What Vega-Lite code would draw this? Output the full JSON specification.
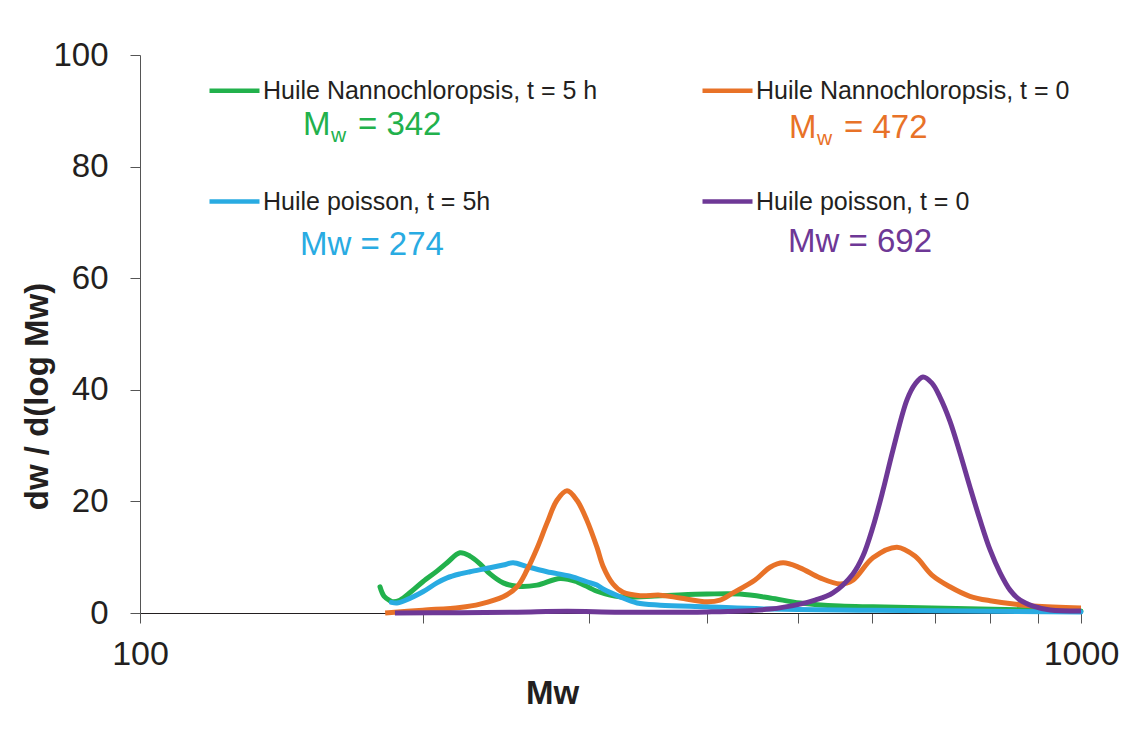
{
  "$schema": "https://vega.github.io/schema/vega-lite/v6.json",
  "width": 941,
  "height": 558,
  "autosize": "none",
  "padding": {"left": 140, "top": 55, "right": 49, "bottom": 118},
  "background": "white",
  "config": {"view": {"stroke": null}, "font": "Liberation Sans"},
  "datasets": {
    "curves": [
      {"series": "Huile Nannochloropsis, t = 5 h", "Mw": 179.9, "dw": 4.7},
      {"series": "Huile Nannochloropsis, t = 5 h", "Mw": 181.7, "dw": 3.0},
      {"series": "Huile Nannochloropsis, t = 5 h", "Mw": 184.4, "dw": 2.2},
      {"series": "Huile Nannochloropsis, t = 5 h", "Mw": 185.7, "dw": 2.0},
      {"series": "Huile Nannochloropsis, t = 5 h", "Mw": 188.9, "dw": 2.3},
      {"series": "Huile Nannochloropsis, t = 5 h", "Mw": 194.1, "dw": 3.8},
      {"series": "Huile Nannochloropsis, t = 5 h", "Mw": 199.8, "dw": 5.6},
      {"series": "Huile Nannochloropsis, t = 5 h", "Mw": 206.8, "dw": 7.5},
      {"series": "Huile Nannochloropsis, t = 5 h", "Mw": 212.0, "dw": 9.0},
      {"series": "Huile Nannochloropsis, t = 5 h", "Mw": 218.8, "dw": 10.8},
      {"series": "Huile Nannochloropsis, t = 5 h", "Mw": 224.2, "dw": 10.2},
      {"series": "Huile Nannochloropsis, t = 5 h", "Mw": 229.8, "dw": 8.8},
      {"series": "Huile Nannochloropsis, t = 5 h", "Mw": 235.5, "dw": 7.0},
      {"series": "Huile Nannochloropsis, t = 5 h", "Mw": 243.2, "dw": 5.4},
      {"series": "Huile Nannochloropsis, t = 5 h", "Mw": 251.6, "dw": 4.8},
      {"series": "Huile Nannochloropsis, t = 5 h", "Mw": 264.2, "dw": 5.0},
      {"series": "Huile Nannochloropsis, t = 5 h", "Mw": 279.5, "dw": 6.2},
      {"series": "Huile Nannochloropsis, t = 5 h", "Mw": 291.3, "dw": 5.6},
      {"series": "Huile Nannochloropsis, t = 5 h", "Mw": 305.9, "dw": 3.9},
      {"series": "Huile Nannochloropsis, t = 5 h", "Mw": 323.7, "dw": 2.9},
      {"series": "Huile Nannochloropsis, t = 5 h", "Mw": 357.0, "dw": 3.1},
      {"series": "Huile Nannochloropsis, t = 5 h", "Mw": 400.5, "dw": 3.4},
      {"series": "Huile Nannochloropsis, t = 5 h", "Mw": 434.2, "dw": 3.4},
      {"series": "Huile Nannochloropsis, t = 5 h", "Mw": 467.3, "dw": 2.7},
      {"series": "Huile Nannochloropsis, t = 5 h", "Mw": 502.8, "dw": 1.8},
      {"series": "Huile Nannochloropsis, t = 5 h", "Mw": 554.4, "dw": 1.25},
      {"series": "Huile Nannochloropsis, t = 5 h", "Mw": 601.0, "dw": 1.1},
      {"series": "Huile Nannochloropsis, t = 5 h", "Mw": 694.4, "dw": 0.9},
      {"series": "Huile Nannochloropsis, t = 5 h", "Mw": 889.3, "dw": 0.55},
      {"series": "Huile Nannochloropsis, t = 5 h", "Mw": 1000, "dw": 0.35},

      {"series": "Huile poisson, t = 5h", "Mw": 185.0, "dw": 1.9},
      {"series": "Huile poisson, t = 5h", "Mw": 187.5, "dw": 1.8},
      {"series": "Huile poisson, t = 5h", "Mw": 191.0, "dw": 2.2},
      {"series": "Huile poisson, t = 5h", "Mw": 199.8, "dw": 3.8},
      {"series": "Huile poisson, t = 5h", "Mw": 206.8, "dw": 5.4},
      {"series": "Huile poisson, t = 5h", "Mw": 212.0, "dw": 6.3},
      {"series": "Huile poisson, t = 5h", "Mw": 218.8, "dw": 7.0},
      {"series": "Huile poisson, t = 5h", "Mw": 224.2, "dw": 7.4},
      {"series": "Huile poisson, t = 5h", "Mw": 235.5, "dw": 8.1},
      {"series": "Huile poisson, t = 5h", "Mw": 243.2, "dw": 8.6},
      {"series": "Huile poisson, t = 5h", "Mw": 249.2, "dw": 9.0},
      {"series": "Huile poisson, t = 5h", "Mw": 257.8, "dw": 8.3},
      {"series": "Huile poisson, t = 5h", "Mw": 270.7, "dw": 7.4},
      {"series": "Huile poisson, t = 5h", "Mw": 286.4, "dw": 6.6},
      {"series": "Huile poisson, t = 5h", "Mw": 298.5, "dw": 5.6},
      {"series": "Huile poisson, t = 5h", "Mw": 305.9, "dw": 5.0},
      {"series": "Huile poisson, t = 5h", "Mw": 310.5, "dw": 4.3},
      {"series": "Huile poisson, t = 5h", "Mw": 323.7, "dw": 2.9},
      {"series": "Huile poisson, t = 5h", "Mw": 337.5, "dw": 1.8},
      {"series": "Huile poisson, t = 5h", "Mw": 357.0, "dw": 1.4},
      {"series": "Huile poisson, t = 5h", "Mw": 400.5, "dw": 1.1},
      {"series": "Huile poisson, t = 5h", "Mw": 467.3, "dw": 0.7},
      {"series": "Huile poisson, t = 5h", "Mw": 601.0, "dw": 0.5},
      {"series": "Huile poisson, t = 5h", "Mw": 1000, "dw": 0.2},

      {"series": "Huile Nannochloropsis, t = 0", "Mw": 182.2, "dw": 0},
      {"series": "Huile Nannochloropsis, t = 0", "Mw": 199.8, "dw": 0.5},
      {"series": "Huile Nannochloropsis, t = 0", "Mw": 218.8, "dw": 1.0},
      {"series": "Huile Nannochloropsis, t = 0", "Mw": 229.8, "dw": 1.6},
      {"series": "Huile Nannochloropsis, t = 0", "Mw": 243.2, "dw": 2.9},
      {"series": "Huile Nannochloropsis, t = 0", "Mw": 251.6, "dw": 4.7},
      {"series": "Huile Nannochloropsis, t = 0", "Mw": 257.8, "dw": 7.7},
      {"series": "Huile Nannochloropsis, t = 0", "Mw": 264.2, "dw": 11.6},
      {"series": "Huile Nannochloropsis, t = 0", "Mw": 270.7, "dw": 16.1},
      {"series": "Huile Nannochloropsis, t = 0", "Mw": 277.4, "dw": 20.2},
      {"series": "Huile Nannochloropsis, t = 0", "Mw": 284.3, "dw": 21.9},
      {"series": "Huile Nannochloropsis, t = 0", "Mw": 291.3, "dw": 20.2},
      {"series": "Huile Nannochloropsis, t = 0", "Mw": 298.5, "dw": 16.6},
      {"series": "Huile Nannochloropsis, t = 0", "Mw": 305.9, "dw": 11.8},
      {"series": "Huile Nannochloropsis, t = 0", "Mw": 310.5, "dw": 8.4},
      {"series": "Huile Nannochloropsis, t = 0", "Mw": 318.2, "dw": 5.2},
      {"series": "Huile Nannochloropsis, t = 0", "Mw": 326.1, "dw": 3.7},
      {"series": "Huile Nannochloropsis, t = 0", "Mw": 339.9, "dw": 3.1},
      {"series": "Huile Nannochloropsis, t = 0", "Mw": 357.0, "dw": 3.2},
      {"series": "Huile Nannochloropsis, t = 0", "Mw": 374.9, "dw": 2.7},
      {"series": "Huile Nannochloropsis, t = 0", "Mw": 400.5, "dw": 2.0},
      {"series": "Huile Nannochloropsis, t = 0", "Mw": 413.4, "dw": 2.3},
      {"series": "Huile Nannochloropsis, t = 0", "Mw": 426.8, "dw": 3.6},
      {"series": "Huile Nannochloropsis, t = 0", "Mw": 450.4, "dw": 5.9},
      {"series": "Huile Nannochloropsis, t = 0", "Mw": 467.3, "dw": 8.2},
      {"series": "Huile Nannochloropsis, t = 0", "Mw": 482.4, "dw": 9.0},
      {"series": "Huile Nannochloropsis, t = 0", "Mw": 502.8, "dw": 8.1},
      {"series": "Huile Nannochloropsis, t = 0", "Mw": 528.0, "dw": 6.3},
      {"series": "Huile Nannochloropsis, t = 0", "Mw": 554.4, "dw": 5.2},
      {"series": "Huile Nannochloropsis, t = 0", "Mw": 572.3, "dw": 5.9},
      {"series": "Huile Nannochloropsis, t = 0", "Mw": 601.0, "dw": 9.9},
      {"series": "Huile Nannochloropsis, t = 0", "Mw": 637.4, "dw": 11.8},
      {"series": "Huile Nannochloropsis, t = 0", "Mw": 666.1, "dw": 10.2},
      {"series": "Huile Nannochloropsis, t = 0", "Mw": 694.4, "dw": 6.8},
      {"series": "Huile Nannochloropsis, t = 0", "Mw": 725.6, "dw": 4.7},
      {"series": "Huile Nannochloropsis, t = 0", "Mw": 762.0, "dw": 3.0},
      {"series": "Huile Nannochloropsis, t = 0", "Mw": 800.6, "dw": 2.2},
      {"series": "Huile Nannochloropsis, t = 0", "Mw": 889.3, "dw": 1.25},
      {"series": "Huile Nannochloropsis, t = 0", "Mw": 1000, "dw": 0.9},

      {"series": "Huile poisson, t = 0", "Mw": 186.6, "dw": 0},
      {"series": "Huile poisson, t = 0", "Mw": 218.8, "dw": 0.05},
      {"series": "Huile poisson, t = 0", "Mw": 251.6, "dw": 0.15},
      {"series": "Huile poisson, t = 0", "Mw": 284.3, "dw": 0.3},
      {"series": "Huile poisson, t = 0", "Mw": 323.7, "dw": 0.15},
      {"series": "Huile poisson, t = 0", "Mw": 400.5, "dw": 0.2},
      {"series": "Huile poisson, t = 0", "Mw": 467.3, "dw": 0.7},
      {"series": "Huile poisson, t = 0", "Mw": 502.8, "dw": 1.6},
      {"series": "Huile poisson, t = 0", "Mw": 521.6, "dw": 2.3},
      {"series": "Huile poisson, t = 0", "Mw": 544.9, "dw": 3.6},
      {"series": "Huile poisson, t = 0", "Mw": 572.3, "dw": 7.0},
      {"series": "Huile poisson, t = 0", "Mw": 586.5, "dw": 10.2},
      {"series": "Huile poisson, t = 0", "Mw": 601.0, "dw": 15.4},
      {"series": "Huile poisson, t = 0", "Mw": 616.0, "dw": 22.0},
      {"series": "Huile poisson, t = 0", "Mw": 631.2, "dw": 29.2},
      {"series": "Huile poisson, t = 0", "Mw": 653.2, "dw": 38.2},
      {"series": "Huile poisson, t = 0", "Mw": 666.1, "dw": 41.0},
      {"series": "Huile poisson, t = 0", "Mw": 679.3, "dw": 42.3},
      {"series": "Huile poisson, t = 0", "Mw": 694.4, "dw": 41.2},
      {"series": "Huile poisson, t = 0", "Mw": 708.1, "dw": 38.7},
      {"series": "Huile poisson, t = 0", "Mw": 725.6, "dw": 34.4},
      {"series": "Huile poisson, t = 0", "Mw": 743.6, "dw": 28.7},
      {"series": "Huile poisson, t = 0", "Mw": 762.0, "dw": 22.6},
      {"series": "Huile poisson, t = 0", "Mw": 781.0, "dw": 16.7},
      {"series": "Huile poisson, t = 0", "Mw": 800.6, "dw": 11.3},
      {"series": "Huile poisson, t = 0", "Mw": 820.4, "dw": 7.2},
      {"series": "Huile poisson, t = 0", "Mw": 840.7, "dw": 4.1},
      {"series": "Huile poisson, t = 0", "Mw": 861.6, "dw": 2.3},
      {"series": "Huile poisson, t = 0", "Mw": 889.3, "dw": 1.25},
      {"series": "Huile poisson, t = 0", "Mw": 927.3, "dw": 0.55},
      {"series": "Huile poisson, t = 0", "Mw": 1000, "dw": 0.35}
    ],
    "notes": [
      {"series": "Huile Nannochloropsis, t = 5 h", "Mw": 149.0, "dw": 85.7, "main": "M", "sub": "w", "rest": "= 342"},
      {"series": "Huile Nannochloropsis, t = 0", "Mw": 489.5, "dw": 85.1, "main": "M", "sub": "w", "rest": "= 472"},
      {"series": "Huile poisson, t = 5h", "Mw": 147.9, "dw": 64.2, "main": "Mw = 274", "sub": "", "rest": ""},
      {"series": "Huile poisson, t = 0", "Mw": 488.3, "dw": 64.7, "main": "Mw = 692", "sub": "", "rest": ""}
    ]
  },
  "encoding": {
    "x": {
      "field": "Mw",
      "type": "quantitative",
      "scale": {"type": "log", "domain": [100, 1000]},
      "axis": {
        "title": "Mw",
        "titleFont": "Liberation Sans",
        "titleFontSize": 33,
        "titleFontWeight": "bold",
        "titleColor": "#231f20",
        "titleX": 412,
        "titleY": 80,
        "titleBaseline": "middle",
        "titleAlign": "center",
        "values": [100, 200, 300, 400, 500, 600, 700, 800, 900, 1000],
        "format": "d",
        "labelExpr": "datum.value == 100 || datum.value == 1000 ? datum.label : ''",
        "labelFont": "Liberation Sans",
        "labelFontSize": 34,
        "labelColor": "#231f20",
        "labelPadding": 14,
        "labelFlush": false,
        "labelOverlap": false,
        "tickSize": 10,
        "tickColor": "#555555",
        "tickWidth": 1,
        "domainColor": "#231f20",
        "domainWidth": 1,
        "grid": false,
        "encode": {
          "ticks": {
            "update": {
              "y": {"signal": "datum.value == 100 ? 0 : -7"},
              "y2": {"signal": "(datum.value == 100 || datum.value == 1000) ? 10 : 0"}
            }
          }
        }
      }
    },
    "y": {
      "field": "dw",
      "type": "quantitative",
      "scale": {"domain": [0, 100]},
      "axis": {
        "title": "dw / d(log Mw)",
        "titleFont": "Liberation Sans",
        "titleFontSize": 33,
        "titleFontWeight": "bold",
        "titleColor": "#231f20",
        "titleX": -103,
        "titleY": 341,
        "titleBaseline": "middle",
        "titleAlign": "center",
        "values": [0, 20, 40, 60, 80, 100],
        "labelFont": "Liberation Sans",
        "labelFontSize": 33,
        "labelColor": "#231f20",
        "labelPadding": 22,
        "tickSize": 10,
        "tickColor": "#555555",
        "domainColor": "#555555",
        "grid": false
      }
    }
  },
  "layer": [
    {
      "data": {"name": "curves"},
      "transform": [{"filter": "datum.series == 'Huile Nannochloropsis, t = 5 h'"}],
      "mark": {"type": "line", "interpolate": "catmull-rom", "strokeWidth": 5, "strokeCap": "round"},
      "encoding": {
        "color": {
          "field": "series",
          "type": "nominal",
          "scale": {
            "domain": ["Huile Nannochloropsis, t = 5 h", "Huile poisson, t = 5h", "Huile Nannochloropsis, t = 0", "Huile poisson, t = 0"],
            "range": ["#22B14C", "#29ABE2", "#E87228", "#6E3896"]
          },
          "legend": {
            "orient": "none",
            "legendX": 67,
            "legendY": 8,
            "columns": 2,
            "title": null,
            "padding": 0,
            "symbolType": "stroke",
            "symbolSize": 2500,
            "symbolStrokeWidth": 4.5,
            "labelFont": "Liberation Sans",
            "labelFontSize": 25,
            "labelColor": "#231f20",
            "labelOffset": 1,
            "labelLimit": 0,
            "columnPadding": 95,
            "rowPadding": 70,
            "gridAlign": "all"
          }
        }
      }
    },
    {
      "data": {"name": "curves"},
      "transform": [{"filter": "datum.series == 'Huile poisson, t = 5h'"}],
      "mark": {"type": "line", "interpolate": "catmull-rom", "strokeWidth": 5, "strokeCap": "round"},
      "encoding": {"color": {"field": "series", "type": "nominal"}}
    },
    {
      "data": {"name": "curves"},
      "transform": [{"filter": "datum.series == 'Huile Nannochloropsis, t = 0'"}],
      "mark": {"type": "line", "interpolate": "catmull-rom", "strokeWidth": 5, "strokeCap": "butt"},
      "encoding": {"color": {"field": "series", "type": "nominal"}}
    },
    {
      "data": {"name": "curves"},
      "transform": [{"filter": "datum.series == 'Huile poisson, t = 0'"}],
      "mark": {"type": "line", "interpolate": "catmull-rom", "strokeWidth": 5, "strokeCap": "butt"},
      "encoding": {"color": {"field": "series", "type": "nominal"}}
    },
    {
      "data": {"name": "notes"},
      "mark": {"type": "text", "align": "left", "baseline": "alphabetic", "fontSize": 33, "font": "Liberation Sans"},
      "encoding": {
        "text": {"field": "main"},
        "color": {"field": "series", "type": "nominal", "legend": null}
      }
    },
    {
      "data": {"name": "notes"},
      "transform": [{"filter": "datum.sub != ''"}],
      "mark": {"type": "text", "align": "left", "baseline": "alphabetic", "fontSize": 21, "font": "Liberation Sans", "dx": 28, "dy": 7},
      "encoding": {
        "text": {"field": "sub"},
        "color": {"field": "series", "type": "nominal", "legend": null}
      }
    },
    {
      "data": {"name": "notes"},
      "transform": [{"filter": "datum.sub != ''"}],
      "mark": {"type": "text", "align": "left", "baseline": "alphabetic", "fontSize": 33, "font": "Liberation Sans", "dx": 55},
      "encoding": {
        "text": {"field": "rest"},
        "color": {"field": "series", "type": "nominal", "legend": null}
      }
    }
  ]
}
